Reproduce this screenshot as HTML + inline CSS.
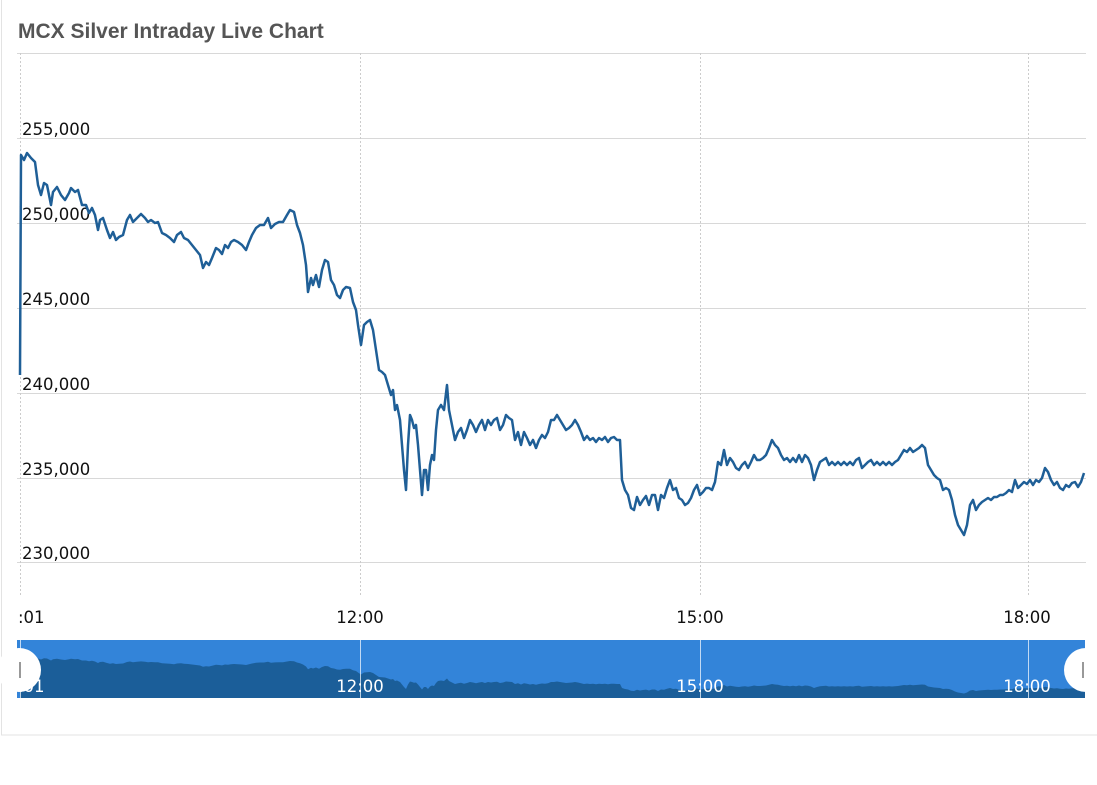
<!DOCTYPE html>
<html><head><meta charset="utf-8"><style>
body{margin:0;background:#fff;width:1097px;height:780px;overflow:hidden}
</style></head><body>
<svg width="1097" height="780" xmlns="http://www.w3.org/2000/svg">
<defs>
<path id="s" d="M20,375 L21,155 24,160 27,153 31,158 35,162 38,185 41,195 44,183 47,185 51,205 53,192 57,187 61,195 65,200 69,193 71,188 75,192 78,190 82,205 86,205 89,213 92,208 95,215 98,230 100,220 103,218 107,230 110,238 113,232 116,240 119,237 123,235 127,220 130,215 133,222 137,218 141,214 145,218 148,222 151,220 155,223 158,222 162,233 166,235 170,238 174,242 177,235 181,232 184,238 188,240 192,245 196,250 200,255 203,268 206,262 209,265 212,258 216,248 219,250 222,254 225,245 228,248 231,242 234,240 238,242 242,245 246,250 249,242 252,235 256,228 260,225 264,225 268,218 271,228 275,224 279,222 283,222 287,215 290,210 294,212 297,225 300,233 303,245 306,265 308,292 311,278 313,285 316,275 319,287 322,270 325,260 328,262 331,280 334,285 337,295 340,298 343,290 346,287 350,288 353,302 356,310 358,325 361,345 364,325 367,322 370,320 373,330 376,350 379,370 382,372 385,375 388,385 391,395 393,390 395,410 397,405 400,420 402,445 404,470 406,490 408,445 410,415 412,420 414,428 416,425 418,445 420,470 422,495 424,470 426,470 428,490 430,465 432,455 434,460 436,430 438,410 441,405 444,410 447,385 449,410 451,420 453,430 455,440 458,432 461,428 464,438 467,430 470,420 473,425 476,432 479,425 482,420 485,430 488,420 491,425 494,420 497,418 500,430 503,425 506,415 509,418 512,420 515,440 518,432 521,445 524,432 527,438 530,445 533,440 536,448 539,440 542,435 545,438 548,432 551,420 554,420 557,415 560,420 563,425 566,430 569,428 572,425 575,420 578,425 581,432 584,440 587,436 590,440 593,438 596,442 599,438 602,440 605,437 608,442 611,438 614,437 617,440 620,440 622,480 625,490 628,495 631,508 634,510 637,497 640,505 643,500 646,496 649,505 652,495 655,495 658,510 661,495 664,498 667,488 670,480 673,490 676,488 679,498 682,500 685,505 688,503 691,498 694,490 697,485 700,495 703,492 706,488 709,488 712,490 715,482 718,462 721,465 724,450 727,465 730,458 733,462 736,468 739,470 742,465 745,462 748,468 751,462 754,455 757,460 760,460 763,458 766,455 769,448 772,440 775,445 778,448 781,455 784,460 787,458 790,462 793,458 796,462 799,455 802,462 805,455 808,458 811,465 814,480 817,470 820,462 823,460 826,458 829,465 832,462 835,465 838,462 841,465 844,462 847,465 850,462 853,465 856,460 859,458 862,468 865,465 868,462 871,460 874,465 877,462 880,465 883,462 886,465 889,462 892,465 895,462 898,460 901,455 904,450 907,452 910,448 913,452 916,450 919,448 922,445 925,448 928,465 931,470 934,475 937,478 940,480 943,490 946,488 949,490 952,500 955,515 958,525 961,530 964,535 967,525 970,505 973,500 976,510 979,505 982,502 985,500 988,498 991,500 994,497 997,497 1000,495 1003,495 1006,493 1009,490 1012,492 1015,480 1018,488 1021,485 1024,482 1027,484 1030,480 1033,485 1036,480 1039,482 1042,478 1045,468 1048,472 1051,480 1054,485 1057,482 1060,488 1063,490 1066,485 1069,487 1072,483 1075,482 1078,487 1081,482 1084,473"/>
</defs>
<rect x="1.5" y="-5" width="1200" height="740" fill="none" stroke="#e3e3e3"/>
<text x="18" y="38" font-family="Liberation Sans, sans-serif" font-weight="bold" font-size="21" fill="#555">MCX Silver Intraday Live Chart</text>
<g stroke="#d8d8d8" stroke-width="1">
<line x1="17" y1="53.5" x2="1086" y2="53.5"/>
<line x1="17" y1="138.5" x2="1086" y2="138.5"/>
<line x1="17" y1="223.5" x2="1086" y2="223.5"/>
<line x1="17" y1="308.5" x2="1086" y2="308.5"/>
<line x1="17" y1="393.5" x2="1086" y2="393.5"/>
<line x1="17" y1="478.5" x2="1086" y2="478.5"/>
<line x1="17" y1="562.5" x2="1086" y2="562.5"/>
</g>
<g stroke="#ccc" stroke-dasharray="2,2">
<line x1="20.5" y1="53" x2="20.5" y2="597"/>
<line x1="360.5" y1="53" x2="360.5" y2="597"/>
<line x1="700.5" y1="53" x2="700.5" y2="597"/>
<line x1="1028.5" y1="53" x2="1028.5" y2="597"/>
</g>
<g font-family="DejaVu Sans, Verdana, sans-serif" font-size="16.5" fill="#111">
<text x="22" y="135">255,000</text>
<text x="22" y="220">250,000</text>
<text x="22" y="305">245,000</text>
<text x="22" y="390">240,000</text>
<text x="22" y="475">235,000</text>
<text x="22" y="559">230,000</text>
<text x="18" y="623">:01</text>
<text x="360" y="623" text-anchor="middle">12:00</text>
<text x="700" y="623" text-anchor="middle">15:00</text>
<text x="1027" y="623" text-anchor="middle">18:00</text>
</g>
<use href="#s" fill="none" stroke="#1f5f97" stroke-width="2.5" stroke-linejoin="round"/>
<rect x="17" y="640" width="1068" height="58" fill="#3384d9"/>
<g transform="matrix(1,0,0,0.1,0,640)">
<path fill="#1b5e99" d="M20,580 L20,160 L21,155 24,160 27,153 31,158 35,162 38,185 41,195 44,183 47,185 51,205 53,192 57,187 61,195 65,200 69,193 71,188 75,192 78,190 82,205 86,205 89,213 92,208 95,215 98,230 100,220 103,218 107,230 110,238 113,232 116,240 119,237 123,235 127,220 130,215 133,222 137,218 141,214 145,218 148,222 151,220 155,223 158,222 162,233 166,235 170,238 174,242 177,235 181,232 184,238 188,240 192,245 196,250 200,255 203,268 206,262 209,265 212,258 216,248 219,250 222,254 225,245 228,248 231,242 234,240 238,242 242,245 246,250 249,242 252,235 256,228 260,225 264,225 268,218 271,228 275,224 279,222 283,222 287,215 290,210 294,212 297,225 300,233 303,245 306,265 308,292 311,278 313,285 316,275 319,287 322,270 325,260 328,262 331,280 334,285 337,295 340,298 343,290 346,287 350,288 353,302 356,310 358,325 361,345 364,325 367,322 370,320 373,330 376,350 379,370 382,372 385,375 388,385 391,395 393,390 395,410 397,405 400,420 402,445 404,470 406,490 408,445 410,415 412,420 414,428 416,425 418,445 420,470 422,495 424,470 426,470 428,490 430,465 432,455 434,460 436,430 438,410 441,405 444,410 447,385 449,410 451,420 453,430 455,440 458,432 461,428 464,438 467,430 470,420 473,425 476,432 479,425 482,420 485,430 488,420 491,425 494,420 497,418 500,430 503,425 506,415 509,418 512,420 515,440 518,432 521,445 524,432 527,438 530,445 533,440 536,448 539,440 542,435 545,438 548,432 551,420 554,420 557,415 560,420 563,425 566,430 569,428 572,425 575,420 578,425 581,432 584,440 587,436 590,440 593,438 596,442 599,438 602,440 605,437 608,442 611,438 614,437 617,440 620,440 622,480 625,490 628,495 631,508 634,510 637,497 640,505 643,500 646,496 649,505 652,495 655,495 658,510 661,495 664,498 667,488 670,480 673,490 676,488 679,498 682,500 685,505 688,503 691,498 694,490 697,485 700,495 703,492 706,488 709,488 712,490 715,482 718,462 721,465 724,450 727,465 730,458 733,462 736,468 739,470 742,465 745,462 748,468 751,462 754,455 757,460 760,460 763,458 766,455 769,448 772,440 775,445 778,448 781,455 784,460 787,458 790,462 793,458 796,462 799,455 802,462 805,455 808,458 811,465 814,480 817,470 820,462 823,460 826,458 829,465 832,462 835,465 838,462 841,465 844,462 847,465 850,462 853,465 856,460 859,458 862,468 865,465 868,462 871,460 874,465 877,462 880,465 883,462 886,465 889,462 892,465 895,462 898,460 901,455 904,450 907,452 910,448 913,452 916,450 919,448 922,445 925,448 928,465 931,470 934,475 937,478 940,480 943,490 946,488 949,490 952,500 955,515 958,525 961,530 964,535 967,525 970,505 973,500 976,510 979,505 982,502 985,500 988,498 991,500 994,497 997,497 1000,495 1003,495 1006,493 1009,490 1012,492 1015,480 1018,488 1021,485 1024,482 1027,484 1030,480 1033,485 1036,480 1039,482 1042,478 1045,468 1048,472 1051,480 1054,485 1057,482 1060,488 1063,490 1066,485 1069,487 1072,483 1075,482 1078,487 1081,482 1084,473 L1085,473 L1085,580 Z"/>
</g>
<g stroke="#fff" stroke-opacity="0.7">
<line x1="20.5" y1="640" x2="20.5" y2="698"/>
<line x1="360.5" y1="640" x2="360.5" y2="698"/>
<line x1="700.5" y1="640" x2="700.5" y2="698"/>
<line x1="1028.5" y1="640" x2="1028.5" y2="698"/>
</g>
<g font-family="DejaVu Sans, Verdana, sans-serif" font-size="16.5" fill="#fff">
<text x="18" y="692">:01</text>
<text x="360" y="692" text-anchor="middle">12:00</text>
<text x="700" y="692" text-anchor="middle">15:00</text>
<text x="1027" y="692" text-anchor="middle">18:00</text>
</g>
<circle cx="19" cy="670" r="22" fill="#fff"/>
<rect x="19" y="662" width="2" height="16" fill="#999"/>
<circle cx="1086" cy="670" r="22" fill="#fff"/>
<rect x="1082" y="662" width="2" height="16" fill="#999"/>
</svg>
</body></html>
